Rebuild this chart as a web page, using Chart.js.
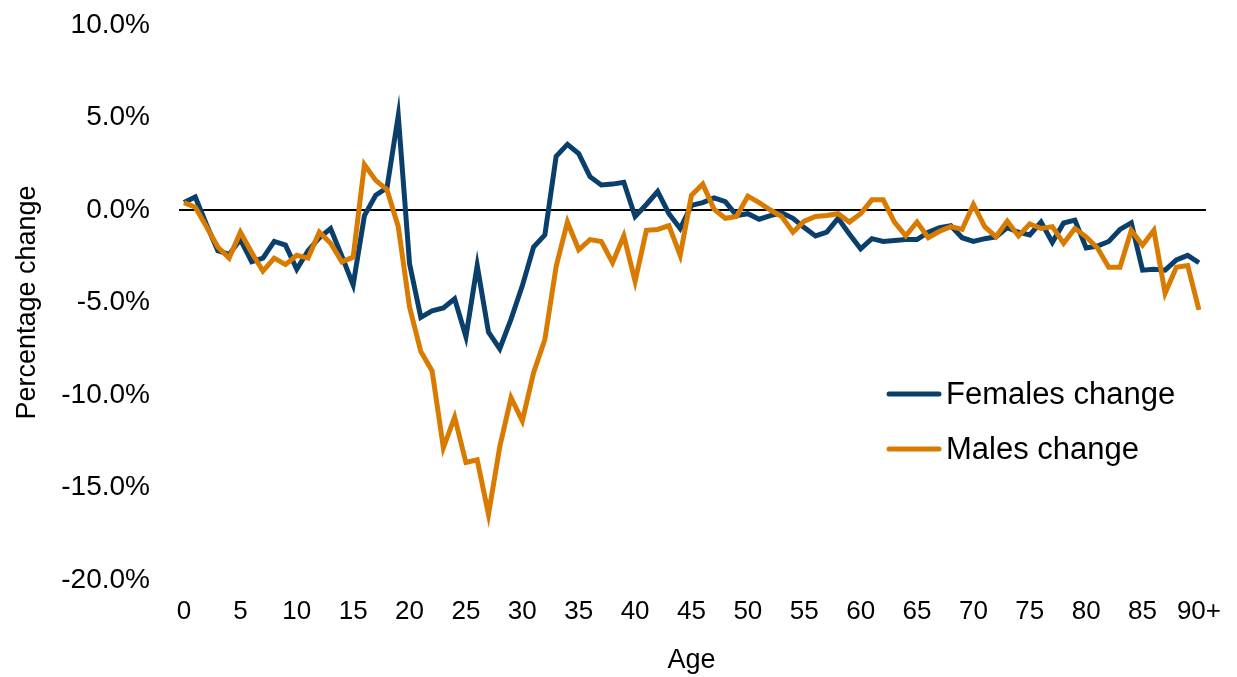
<!DOCTYPE html>
<html>
<head>
<meta charset="utf-8">
<script src="https://cdn.jsdelivr.net/npm/chart.js@4"></script>
<style>
  body { margin: 0; background: #fff; }
</style>
</head>
<body>
<canvas id="chart" width="1237" height="677"></canvas>
<script>
// age categories, 0 to 90+
var ages = [];
for (var i = 0; i < 90; i++) ages.push(String(i));
ages.push("90+");

// percentage change by single year of age
var femalesChange = [
  0.4, 0.7, -0.8, -2.2, -2.4, -1.6, -2.8, -2.6, -1.7, -1.9,
  -3.2, -2.2, -1.5, -1.0, -2.5, -4.05, -0.3, 0.8, 1.2, 5.1,
  -2.9, -5.8, -5.45, -5.3, -4.8, -6.85, -3.0, -6.6, -7.5, -5.9,
  -4.1, -2.0, -1.35, 2.9, 3.55, 3.05, 1.8, 1.35, 1.4, 1.5,
  -0.35, 0.3, 1.0, -0.2, -1.0, 0.25, 0.4, 0.65, 0.45, -0.3,
  -0.2, -0.5, -0.3, -0.15, -0.45, -0.95, -1.4, -1.2, -0.45, -1.3,
  -2.1, -1.55, -1.7, -1.65, -1.6, -1.6, -1.2, -0.95, -0.85, -1.5,
  -1.7, -1.55, -1.45, -0.95, -1.2, -1.35, -0.65, -1.75, -0.7, -0.55,
  -2.05, -1.95, -1.7, -1.05, -0.7, -3.25, -3.2, -3.25, -2.7, -2.45,
  -2.85
];
var malesChange = [
  0.4, 0.15, -0.9, -2.0, -2.6, -1.2, -2.3, -3.3, -2.6, -2.95,
  -2.45, -2.6, -1.2, -1.8, -2.8, -2.55, 2.45, 1.6, 1.1, -0.9,
  -5.25, -7.65, -8.7, -12.85, -11.2, -13.65, -13.5, -16.45, -12.8, -10.15,
  -11.4, -8.8, -7.0, -3.05, -0.65, -2.15, -1.6, -1.7, -2.85, -1.4,
  -3.85, -1.1, -1.05, -0.85, -2.45, 0.8, 1.4, 0.05, -0.45, -0.35,
  0.75, 0.4, 0.0, -0.35, -1.2, -0.6, -0.35, -0.3, -0.2, -0.65,
  -0.2, 0.55, 0.55, -0.65, -1.4, -0.65, -1.5, -1.15, -0.9, -1.05,
  0.3, -0.9, -1.45, -0.6, -1.4, -0.75, -1.0, -0.9, -1.8, -1.0,
  -1.45, -2.05, -3.1, -3.1, -1.1, -1.9, -1.1, -4.5, -3.1, -3.0,
  -5.4
];

var FEMALE_COLOR = "#0a3f6c";
var MALE_COLOR = "#d97b00";

// black zero line, a little wider than the plot
var zeroLine = {
  id: "zeroLine",
  beforeDatasetsDraw: function (chart) {
    var ctx = chart.ctx, area = chart.chartArea;
    var y = chart.scales.y.getPixelForValue(0);
    ctx.save();
    ctx.strokeStyle = "#000";
    ctx.lineWidth = 2;
    ctx.beginPath();
    ctx.moveTo(area.left - 5, y);
    ctx.lineTo(area.right + 7, y);
    ctx.stroke();
    ctx.restore();
  }
};

// legend inside the plot, lower right
var insideLegend = {
  id: "insideLegend",
  afterDraw: function (chart) {
    var ctx = chart.ctx;
    var rows = [chart.data.datasets[0], chart.data.datasets[1]];
    ctx.save();
    ctx.font = "31px 'Liberation Sans', Arial, sans-serif";
    ctx.textBaseline = "middle";
    ctx.fillStyle = "#000";
    rows.forEach(function (ds, i) {
      var y = 394 + i * 55;
      ctx.strokeStyle = ds.borderColor;
      ctx.lineWidth = 5;
      ctx.lineCap = "round";
      ctx.beginPath();
      ctx.moveTo(889, y);
      ctx.lineTo(939, y);
      ctx.stroke();
      ctx.fillText(ds.label, 946, y + 1);
    });
    ctx.restore();
  }
};

var ctx = document.getElementById("chart").getContext("2d");
var chart = new Chart(ctx, {
  type: "line",
  data: {
    labels: ages,
    datasets: [
      {
        label: "Females change",
        data: femalesChange,
        borderColor: FEMALE_COLOR,
        backgroundColor: FEMALE_COLOR,
        borderWidth: 5,
        pointRadius: 0,
        order: 1
      },
      {
        label: "Males change",
        data: malesChange,
        borderColor: MALE_COLOR,
        backgroundColor: MALE_COLOR,
        borderWidth: 5,
        pointRadius: 0,
        order: 0
      }
    ]
  },
  options: {
    responsive: false,
    animation: false,
    layout: { padding: { top: 25, right: 36, bottom: 0, left: 0 } },
    plugins: {
      legend: { display: false },
      tooltip: { enabled: false }
    },
    scales: {
      x: {
        grid: { display: false, drawTicks: false },
        border: { display: false },
        ticks: {
          autoSkip: false,
          maxRotation: 0,
          padding: 16,
          color: "#000",
          font: { family: "'Liberation Sans', Arial", size: 26 },
          callback: function (v, i) { return i % 5 === 0 ? ages[i] : ""; }
        },
        title: {
          display: true,
          text: "Age",
          color: "#000",
          padding: { top: 0, bottom: 0 },
          font: { family: "'Liberation Sans', Arial", size: 27 }
        },
        afterFit: function (s) { s.height = 97; }
      },
      y: {
        min: -20,
        max: 10,
        grid: { display: false, drawTicks: false },
        border: { display: false },
        ticks: {
          stepSize: 5,
          padding: 34,
          color: "#000",
          font: { family: "'Liberation Sans', Arial", size: 28 },
          callback: function (v) { return v.toFixed(1) + "%"; }
        },
        title: {
          display: true,
          text: "Percentage change",
          color: "#000",
          padding: { top: 11, bottom: 0 },
          font: { family: "'Liberation Sans', Arial", size: 27 }
        },
        afterFit: function (s) {
          s.width = 184;
          s.paddingTop = 0;
          s.paddingBottom = 0;
        }
      }
    }
  },
  plugins: [zeroLine, insideLegend]
});
</script>
</body>
</html>
